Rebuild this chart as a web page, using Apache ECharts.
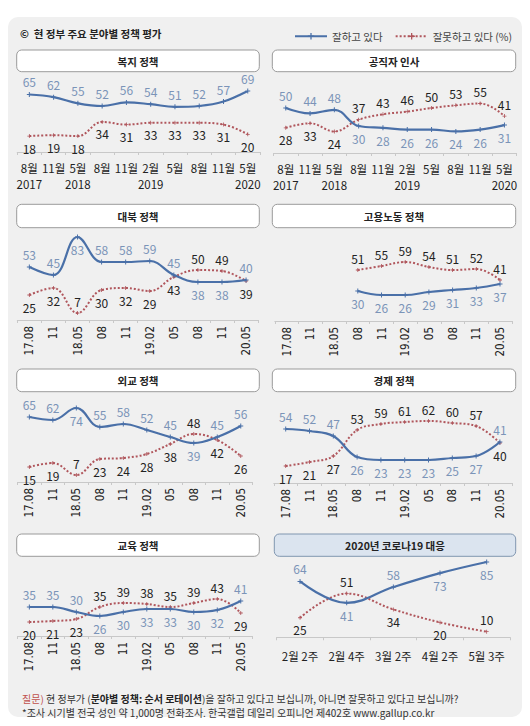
<!DOCTYPE html>
<html>
<head>
<meta charset="utf-8">
<script src="https://cdn.jsdelivr.net/npm/echarts@6/dist/echarts.min.js"></script>
<style>
html,body{margin:0;padding:0;background:#ffffff;}
#chart{width:530px;height:726px;}
</style>
</head>
<body>
<div id="chart"></div>
<script>
// ---------- data ----------
const catsMonth = ['8월','11월','5월','8월','11월','2월','5월','8월','11월','5월'];
const catsYear  = ['2017','','2018','','','2019','','','','2020'];
const catsYYMM = ['17.08','11','18.05','08','11','19.02','05','08','11','20.05'];
const catsCovid = ['2월 2주','2월 4주','3월 2주','4월 2주','5월 3주'];

const panelTitles = ['복지 정책','공직자 인사','대북 정책','고용노동 정책','외교 정책','경제 정책','교육 정책','2020년 코로나19 대응'];

const welfareGood   = [65,62,55,52,56,54,51,52,57,69];
const welfareBad    = [18,19,18,34,31,33,33,33,31,20];
const personnelGood = [50,44,48,30,28,26,26,24,26,31];
const personnelBad  = [28,33,24,37,43,46,50,53,55,41];
const northGood     = [53,45,83,58,58,59,45,38,38,40];
const northBad      = [25,32,7,30,32,29,43,50,49,39];
const laborGood     = [null,null,null,30,26,26,29,31,33,37];
const laborBad      = [null,null,null,51,55,59,54,51,52,41];
const foreignGood   = [65,62,74,55,58,52,45,39,45,56];
const foreignBad    = [15,19,7,23,24,28,38,48,42,26];
const economyGood   = [54,52,47,26,23,23,23,25,27,41];
const economyBad    = [17,21,27,53,59,61,62,60,57,40];
const educationGood = [35,35,30,26,30,33,33,30,32,41];
const educationBad  = [20,21,23,35,39,38,35,39,43,29];
const covidGood     = [64,41,58,73,85];
const covidBad      = [25,51,34,20,10];

const NAME_GOOD = '잘하고 있다';
const NAME_BAD = '잘못하고 있다 (%)';

// ---------- style / layout (not data) ----------
const FONT = "'Noto Sans CJK KR', 'Noto Sans', sans-serif";
const NARROW = "'Liberation Sans Narrow', 'DejaVu Sans Condensed', 'Noto Sans CJK KR', sans-serif";
const BLUE = '#4a70a8', BLUE_TXT = '#7b94b8', RED = '#b0565c', RED_TXT = '#222';
const PLUS = 'path://M2,0h1v2h2v1h-2v2h-1v-2h-2v-1h2z';

// label placement strings: a = above, b = below
const panels = [
  {cats:catsMonth, good:welfareGood, bad:welfareBad, gp:'aaaaaaaaaa', bp:'bbbbbbbbbb', left:17.2, width:242.7, zeroY:152, scale:0.885, min:0, kind:'my', box:[16.7,50,242.6,21.7]},
  {cats:catsMonth, good:personnelGood, bad:personnelBad, gp:'aaabbbbbbb', bp:'bbbaaaaaaa', left:273.6, width:243, zeroY:153, scale:0.9, min:0, kind:'my', box:[272.3,50,243.4,21.7]},
  {cats:catsYYMM, good:northGood, bad:northBad, gp:'aabaaaabba', bp:'bbabbbbaab', left:17.3, width:240.8, zeroY:320, scale:1, min:0, kind:'rot', box:[16.7,204.3,242.6,23.4]},
  {cats:catsYYMM, good:laborGood, bad:laborBad, gp:'bbbbbbbbbb', bp:'aaaaaaaaaa', left:274.85, width:237, zeroY:321, scale:1, min:0, kind:'rot', box:[272.3,204.3,243.4,23.4]},
  {cats:catsYYMM, good:foreignGood, bad:foreignBad, gp:'aabaaaabaa', bp:'bbabbbbabb', left:17.6, width:234.9, zeroY:482, scale:1, min:0, kind:'rot', box:[16.7,369,242.6,22.7]},
  {cats:catsYYMM, good:economyGood, bad:economyBad, gp:'aaabbbbbba', bp:'bbbaaaaaab', left:273.8, width:238, zeroY:483, scale:1, min:0, kind:'rot', box:[272.3,369,243.4,22.7]},
  {cats:catsYYMM, good:educationGood, bad:educationBad, gp:'aaabbbbbba', bp:'bbbaaaaaab', left:17.6, width:234.9, zeroY:642, scale:1, min:6, kind:'rot', box:[16.7,534,242.6,22.3]},
  {cats:catsCovid, good:covidGood, bad:covidBad, gp:'ababb', bp:'babba', left:276.7, width:233.3, zeroY:641, scale:0.93, min:4, kind:'covid', box:[274.3,534,241.4,22.3]}
];

const grid = [], xAxis = [], yAxis = [], series = [], graphic = [];

graphic.push({type:'rect', z:-10, shape:{x:8, y:17, width:514, height:700, r:10}, style:{fill:'#f0f0f0'}});
graphic.push({type:'text', z:5, x:20, y:33, style:{text:'©  현 정부 주요 분야별 정책 평가', font:'bold 10.5px ' + FONT, fill:'#222', verticalAlign:'middle', align:'left'}});

function mkData(vals, place) {
  return vals.map((v, i) => v == null ? '-' : {value: v, label: {position: place[i] === 'a' ? 'top' : 'bottom'}});
}

panels.forEach((p, i) => {
  const top = p.zeroY - 100 * p.scale;
  const height = (100 - p.min) * p.scale;
  grid.push({left:p.left, top:top, width:p.width, height:height, containLabel:false});
  let axisLabel;
  if (p.kind === 'my') {
    axisLabel = {interval:0, fontSize:11.5, lineHeight:13, color:'#222', fontFamily:FONT, margin:9};
  } else if (p.kind === 'rot') {
    axisLabel = {interval:0, rotate:90, fontSize:11.5, color:'#222', fontFamily:NARROW, margin:6};
  } else {
    axisLabel = {interval:0, fontSize:11.5, color:'#222', fontFamily:FONT, margin:13};
  }
  xAxis.push({type:'category', gridIndex:i, data:p.cats, boundaryGap:true,
    axisLine:{show:true, lineStyle:{color:'#c8c8c8', width:1}},
    axisTick:{show:true, length:3, lineStyle:{color:'#c8c8c8'}},
    axisLabel:axisLabel, splitLine:{show:false}});
  yAxis.push({type:'value', gridIndex:i, min:p.min, max:100, show:false, splitLine:{show:false}});
  series.push({type:'line', name:NAME_GOOD, xAxisIndex:i, yAxisIndex:i, data:mkData(p.good, p.gp),
    smooth:0.4, symbol:PLUS, symbolSize:5, showSymbol:true, z:4,
    lineStyle:{color:BLUE, width:2.2}, itemStyle:{color:BLUE},
    label:{show:true, color:BLUE_TXT, fontSize:12, fontFamily:FONT, distance:4},
    emphasis:{disabled:true}, silent:true});
  series.push({type:'line', name:NAME_BAD, xAxisIndex:i, yAxisIndex:i, data:mkData(p.bad, p.bp),
    smooth:0.4, symbol:PLUS, symbolSize:4, showSymbol:true, z:3,
    lineStyle:{color:RED, width:2, type:'dotted'}, itemStyle:{color:RED},
    label:{show:true, color:RED_TXT, fontSize:12, fontFamily:FONT, distance:4},
    emphasis:{disabled:true}, silent:true});
  const b = p.box;
  const covid = p.kind === 'covid';
  graphic.push({type:'rect', z:1, shape:{x:b[0], y:b[1], width:b[2], height:b[3], r:5},
    style:{fill: covid ? '#dbe4ef' : '#ffffff', stroke: covid ? '#8096b0' : '#9a9a9a', lineWidth:1}});
  graphic.push({type:'text', z:2, x:b[0] + b[2] / 2, y:b[1] + b[3] / 2 + 0.5,
    style:{text:panelTitles[i], font:'bold 10.5px ' + FONT, fill:'#222', align:'center', verticalAlign:'middle'}});
});

// year rows under the month labels (panels 1 and 2)
[0, 1].forEach(i => {
  xAxis.push({type:'category', gridIndex:i, data:catsYear, boundaryGap:true, position:'bottom',
    axisLine:{show:false}, axisTick:{show:false}, splitLine:{show:false},
    axisLabel:{interval:0, fontSize:11.5, lineHeight:13, color:'#222', fontFamily:FONT, margin:25}});
});

graphic.push({type:'text', z:5, x:22, y:698, style:{
  text:'{q|질문)} 현 정부가 ({b|분야별 정책: 순서 로테이션})을 잘하고 있다고 보십니까, 아니면 잘못하고 있다고 보십니까?',
  font:'10px ' + FONT, fill:'#333', verticalAlign:'middle', align:'left',
  rich:{q:{fill:'#c0504d', fontSize:10, fontFamily:FONT}, b:{fontWeight:'bold', fill:'#222', fontSize:10, fontFamily:FONT}}}});
graphic.push({type:'text', z:5, x:22, y:712, style:{
  text:'*조사 시기별 전국 성인 약 1,000명 전화조사. 한국갤럽 데일리 오피니언 제402호 www.gallup.co.kr',
  font:'10px ' + FONT, fill:'#333', verticalAlign:'middle', align:'left'}});

const chart = echarts.init(document.getElementById('chart'), null, {renderer:'svg', width:530, height:726});
chart.setOption({
  animation:false,
  backgroundColor:'#ffffff',
  textStyle:{fontFamily:FONT},
  legend:{show:true, data:[NAME_GOOD, NAME_BAD], left:289, top:26, itemWidth:32, itemHeight:8, itemGap:12,
    textStyle:{fontSize:10.5, color:'#444', fontFamily:FONT}, selectedMode:false},
  grid:grid, xAxis:xAxis, yAxis:yAxis, series:series, graphic:graphic
});
</script>
</body>
</html>
